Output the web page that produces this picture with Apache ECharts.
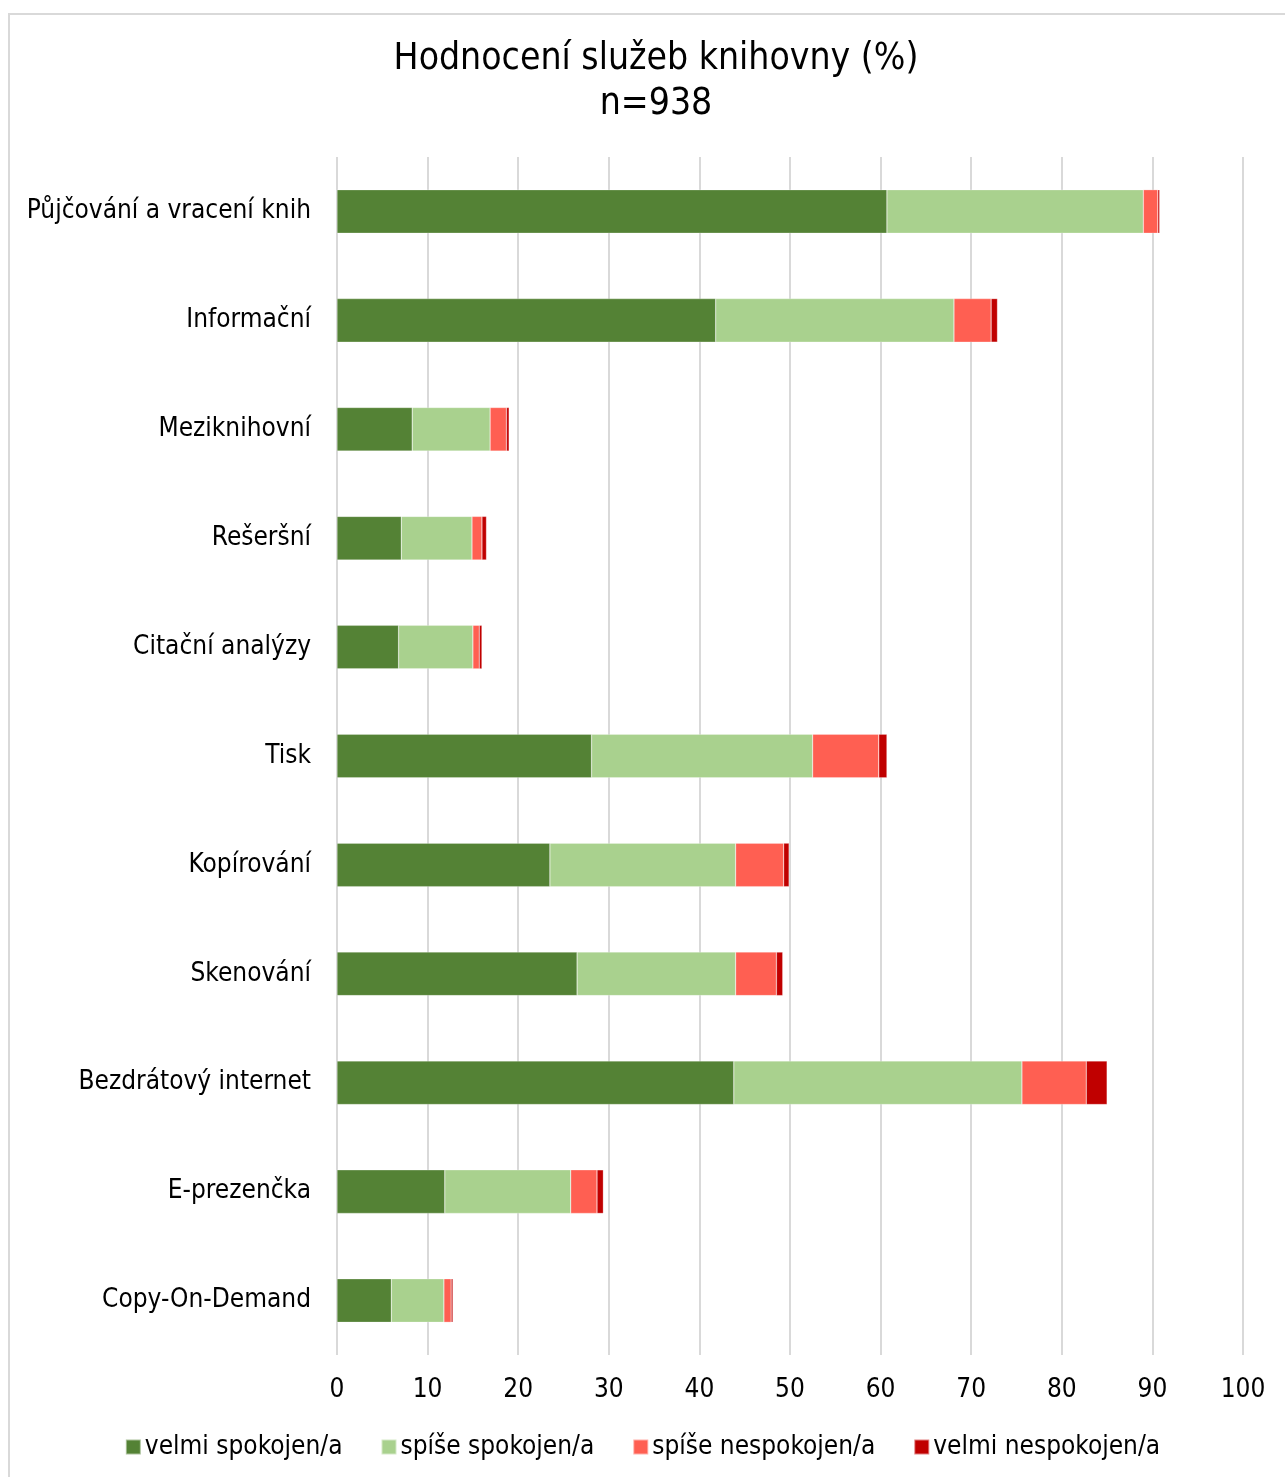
<!DOCTYPE html>
<html>
<head>
<meta charset="utf-8">
<script src="https://cdn.jsdelivr.net/npm/echarts@6/dist/echarts.min.js"></script>
<style>
    html, body { margin: 0; padding: 0; background: #fff; }
    #chart { width: 1285px; height: 1477px; }
</style>
</head>
<body>
<div id="chart"></div>
<script>
const categories = [
    'Půjčování a vracení knih',
    'Informační',
    'Meziknihovní',
    'Rešeršní',
    'Citační analýzy',
    'Tisk',
    'Kopírování',
    'Skenování',
    'Bezdrátový internet',
    'E-prezenčka',
    'Copy-On-Demand'
];

const velmiSpokojen = [60.7, 41.8, 8.3, 7.1, 6.8, 28.1, 23.5, 26.5, 43.8, 11.9, 6.0];
const spiseSpokojen = [28.3, 26.3, 8.6, 7.8, 8.2, 24.4, 20.5, 17.5, 31.8, 13.9, 5.8];
const spiseNespokojen = [1.6, 4.1, 1.8, 1.1, 0.7, 7.3, 5.3, 4.5, 7.1, 2.9, 0.8];
const velmiNespokojen = [0.2, 0.7, 0.3, 0.5, 0.3, 0.9, 0.6, 0.7, 2.3, 0.7, 0.2];

const xTicks = [0, 10, 20, 30, 40, 50, 60, 70, 80, 90, 100];

const font = '"DejaVu Sans Condensed", "DejaVu Sans", sans-serif';

function makeSeries(name, data, color) {
    return {
        name,
        type: 'bar',
        stack: 'total',
        barWidth: '40%',
        itemStyle: {
            color,
            borderColor: 'rgba(255,255,255,0.5)',
            borderWidth: 0.5
        },
        data
    };
}

const chart = echarts.init(document.getElementById('chart'));

chart.setOption({
    backgroundColor: '#fff',
    animation: false,
    // light frame of the chart area, open at right and bottom
    graphic: [{
        type: 'rect',
        silent: true,
        shape: { x: 9, y: 14, width: 1400, height: 1600 },
        style: { fill: 'none', stroke: '#d9d9d9', lineWidth: 2 }
    }],
    title: {
        text: 'Hodnocení služeb knihovny (%)\nn=938',
        left: 651,
        textAlign: 'center',
        top: 32,
        textStyle: {
            fontFamily: font,
            fontWeight: 'normal',
            fontSize: 37,
            lineHeight: 45,
            color: '#000',
            align: 'center'
        }
    },
    legend: {
        bottom: 12,
        left: 'center',
        itemWidth: 15,
        itemHeight: 15,
        itemGap: 38,
        icon: 'rect',
        textStyle: {
            fontFamily: font,
            fontSize: 26,
            color: '#000',
            padding: [0, 0, 0, -1]
        }
    },
    grid: {
        left: 337,
        right: 42,
        top: 157,
        bottom: 122
    },
    xAxis: {
        type: 'value',
        min: 0,
        max: 100,
        interval: 10,
        axisLine: { show: false },
        axisTick: { show: false },
        splitLine: { lineStyle: { color: '#d9d9d9', width: 2 } },
        axisLabel: {
            fontFamily: font,
            fontSize: 26,
            color: '#000',
            margin: 22,
            formatter: v => xTicks.includes(v) ? String(v) : ''
        }
    },
    yAxis: {
        type: 'category',
        inverse: true,
        data: categories,
        axisLine: { show: false },
        axisTick: { show: false },
        axisLabel: {
            fontFamily: font,
            fontSize: 26,
            color: '#000',
            margin: 26
        }
    },
    series: [
        makeSeries('velmi spokojen/a', velmiSpokojen, '#548235'),
        makeSeries('spíše spokojen/a', spiseSpokojen, '#a9d18e'),
        makeSeries('spíše nespokojen/a', spiseNespokojen, '#ff5f52'),
        makeSeries('velmi nespokojen/a', velmiNespokojen, '#c00000')
    ]
});
</script>
</body>
</html>
